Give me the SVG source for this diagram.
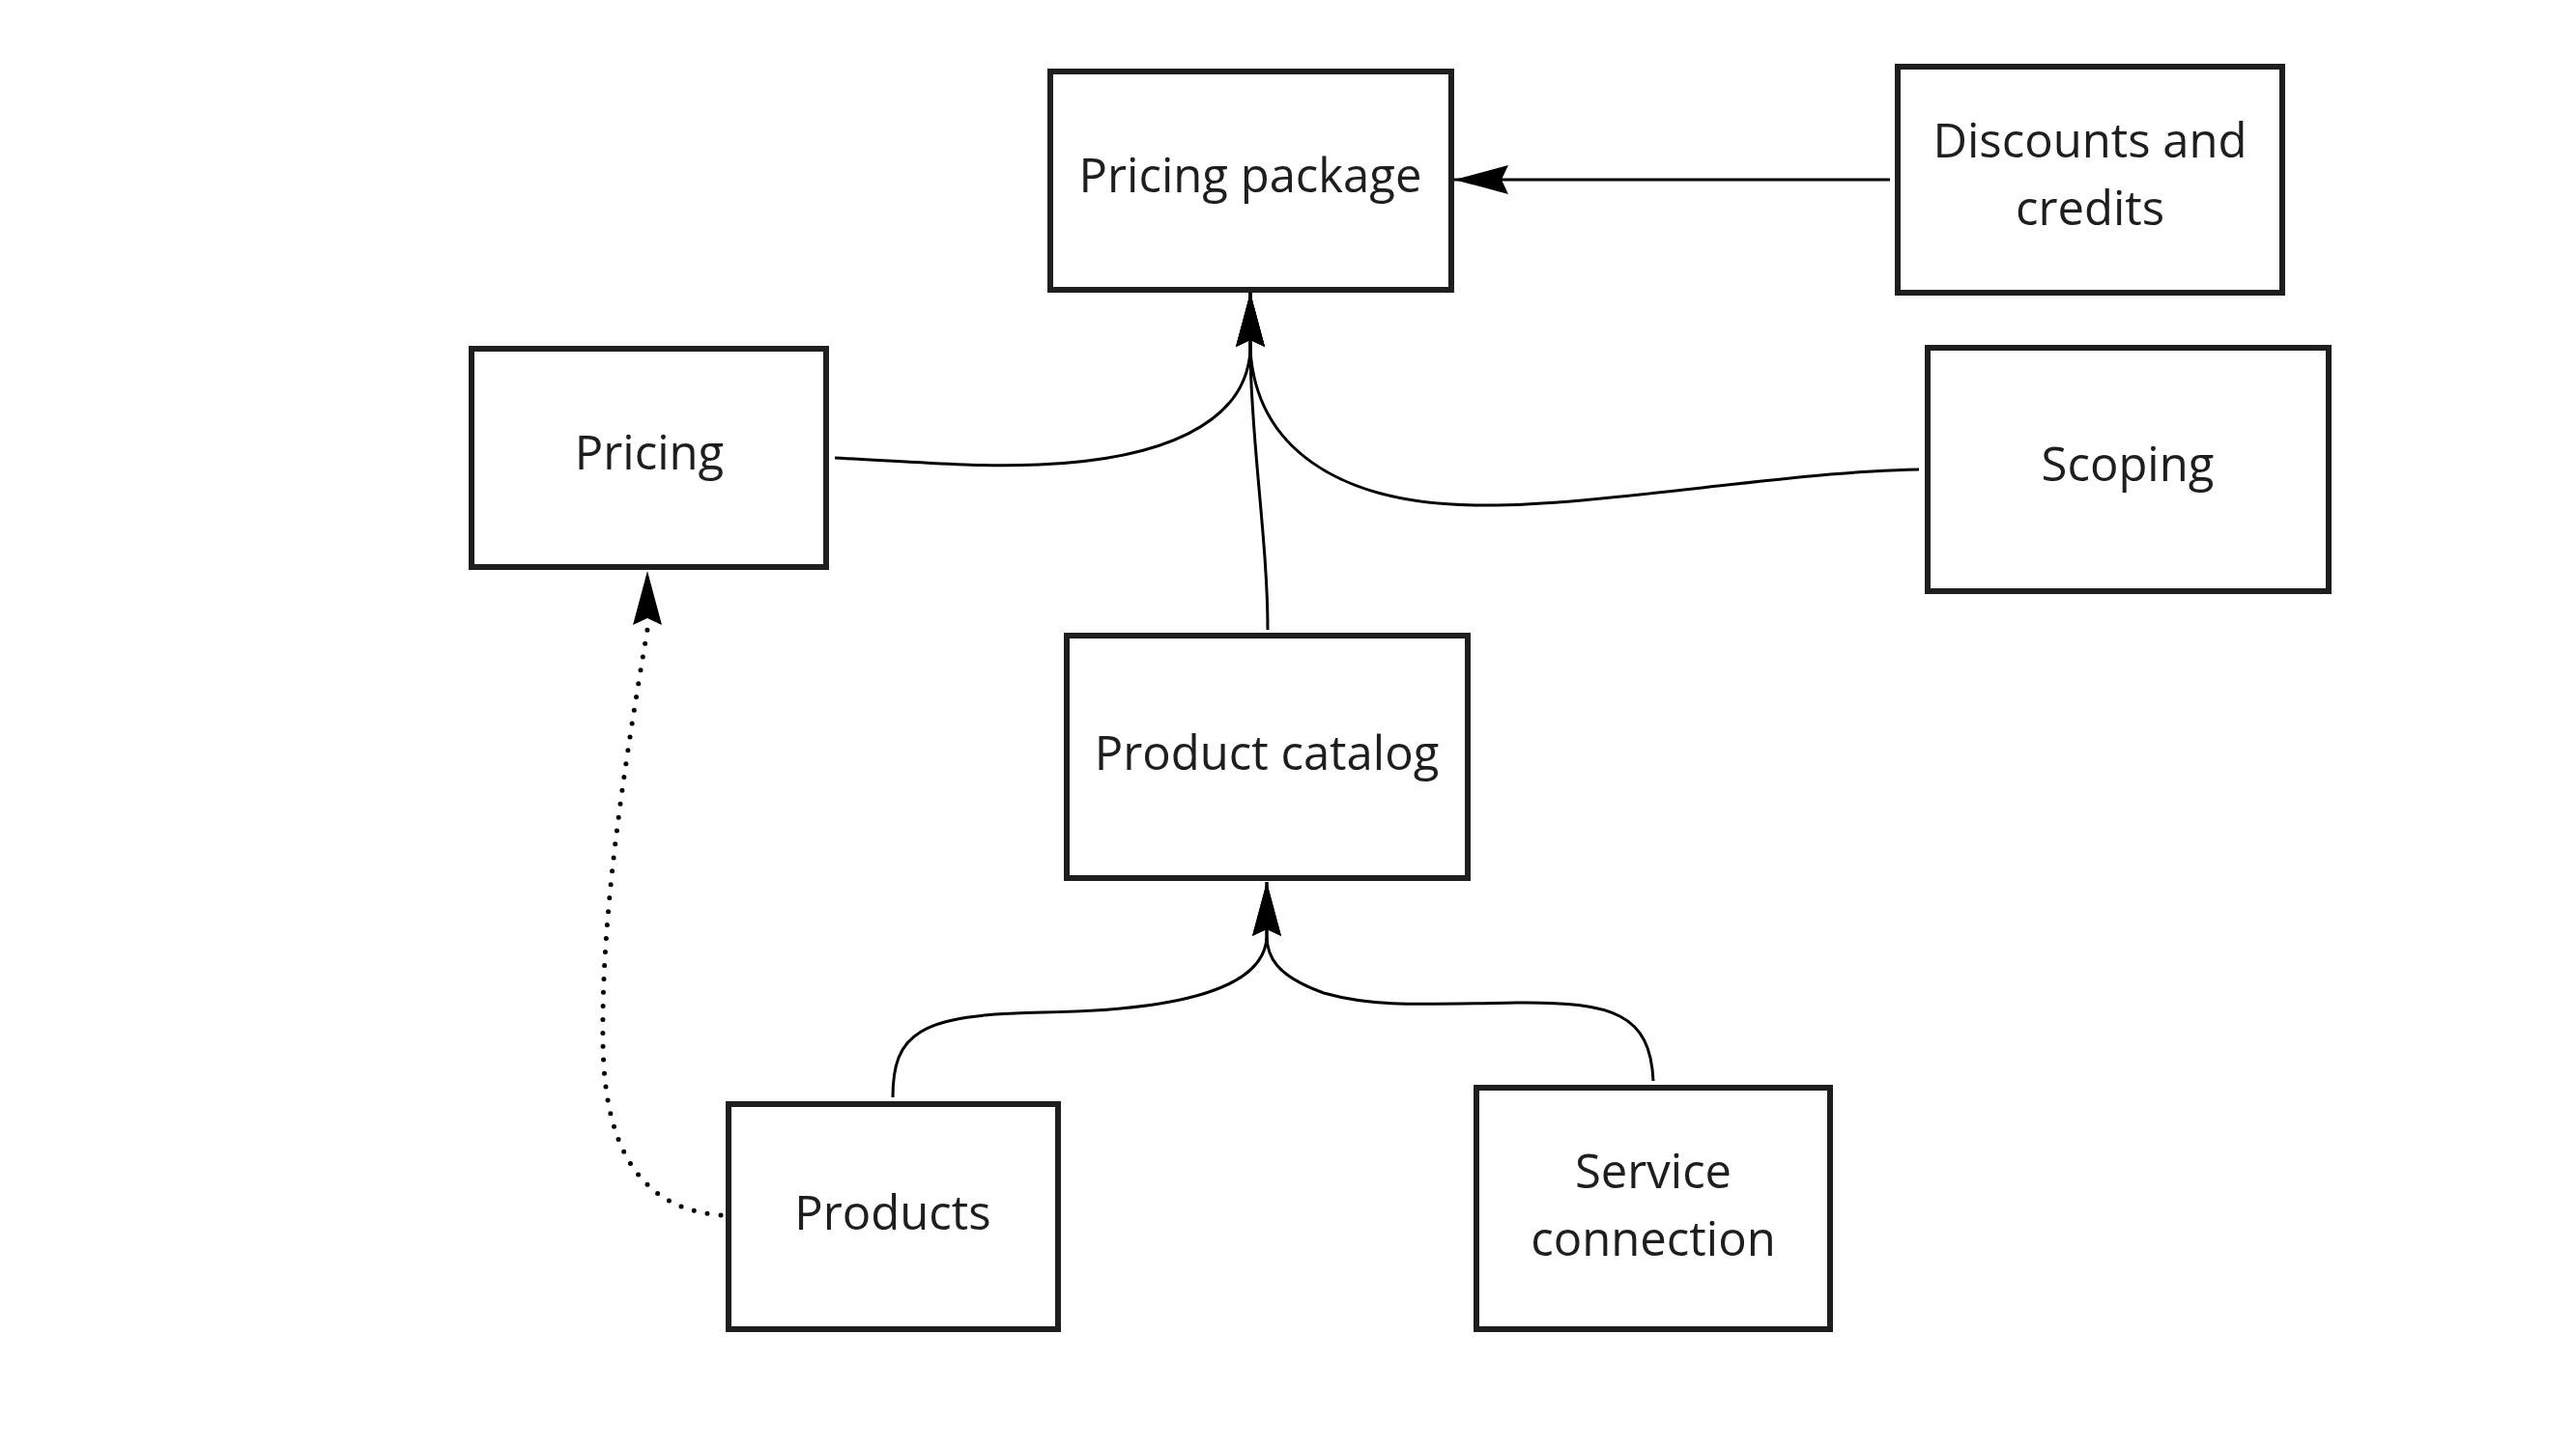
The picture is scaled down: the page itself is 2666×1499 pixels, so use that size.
<svg xmlns="http://www.w3.org/2000/svg" width="2666" height="1499" viewBox="0 0 2666 1499">
<style>
.box{fill:#ffffff;stroke:#1e1e1e;stroke-width:6}
.lbl{font-family:"Open Sans","Noto Sans",sans-serif;font-size:49px;fill:#1e1e1e;text-anchor:middle}
.con{fill:none;stroke:#000000;stroke-width:3}
.dot{fill:none;stroke:#000000;stroke-width:5;stroke-linecap:round;stroke-dasharray:0 14}
</style>
<defs>
<marker id="arr" markerUnits="userSpaceOnUse" markerWidth="62" markerHeight="36" viewBox="-60 -18 62 36" refX="0" refY="0" orient="auto">
<path d="M0,0 L-56,-15 L-49,0 L-56,15 Z" fill="#000000"/>
</marker>
</defs>
<rect width="2666" height="1499" fill="#ffffff"/>
<g id="connectors">
<path class="con" d="M1956 186 L1505 186" marker-end="url(#arr)"/>
<path class="con" d="M864 474 C950 478 1010 484 1075 481 C1200 476 1290 440 1294 362 L1294 303" marker-end="url(#arr)"/>
<path class="con" d="M1312 652 C1312 560 1294 450 1294 362 L1294 303" marker-end="url(#arr)"/>
<path class="con" d="M1986 486 C1850 488 1650 525 1530 523 C1380 522 1300 460 1294 362 L1294 303" marker-end="url(#arr)"/>
<path class="con" d="M924 1136 C924 1070 950 1050 1080 1048 C1230 1046 1311 1020 1311 968 L1311 913" marker-end="url(#arr)"/>
<path class="con" d="M1711 1119 C1708 1050 1670 1037 1570 1038 C1460 1040 1420 1042 1370 1028 C1320 1010 1311 990 1311 968 L1311 913" marker-end="url(#arr)"/>
<path class="dot" d="M746 1258 C640 1250 625 1150 624 1080 C622 950 645 800 670 652"/>
<path class="con" d="M670 652 L670 591" marker-end="url(#arr)" stroke-opacity="0"/>
</g>
<g id="node-pricing-package">
<rect class="box" x="1087" y="74" width="415" height="226"/>
<text class="lbl" x="1294" y="199">Pricing package</text>
</g>
<g id="node-discounts">
<rect class="box" x="1964" y="69" width="398" height="234"/>
<text class="lbl" x="2163" y="163">Discounts and</text>
<text class="lbl" x="2163" y="233">credits</text>
</g>
<g id="node-pricing">
<rect class="box" x="488" y="361" width="367" height="226"/>
<text class="lbl" x="672" y="486">Pricing</text>
</g>
<g id="node-scoping">
<rect class="box" x="1995" y="360" width="415" height="252"/>
<text class="lbl" x="2202" y="498">Scoping</text>
</g>
<g id="node-product-catalog">
<rect class="box" x="1104" y="658" width="415" height="251"/>
<text class="lbl" x="1311" y="797">Product catalog</text>
</g>
<g id="node-products">
<rect class="box" x="754" y="1143" width="341" height="233"/>
<text class="lbl" x="924" y="1273">Products</text>
</g>
<g id="node-service-connection">
<rect class="box" x="1528" y="1126" width="366" height="250"/>
<text class="lbl" x="1711" y="1230">Service</text>
<text class="lbl" x="1711" y="1300">connection</text>
</g>
</svg>
